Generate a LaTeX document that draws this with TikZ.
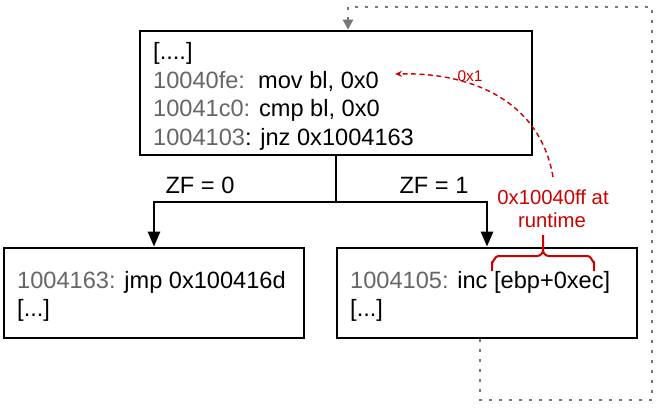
\documentclass[tikz,border=0pt]{standalone}
\usepackage{fontspec}
\setmainfont{Liberation Sans}
\usetikzlibrary{arrows.meta}
\definecolor{addrgray}{HTML}{666666}
\definecolor{dotgray}{HTML}{777777}
\definecolor{annred}{HTML}{CC0000}
\newcommand{\addr}[1]{\textcolor{addrgray}{#1}}
\tikzset{
  box/.style={draw=black, line width=2.7pt, rectangle, inner sep=0pt},
  txt/.style={anchor=base west, inner sep=0pt, font=\fontsize{23.6}{28}\selectfont},
  lbl/.style={anchor=base, inner sep=0pt, font=\fontsize{23.6}{28}\selectfont},
  conn/.style={draw=black, line width=2.7pt},
  connarrow/.style={conn, -{Triangle[width=12pt,length=15pt]}},
  dotline/.style={draw=dotgray, line width=2.5pt, dash pattern=on 2.5pt off 7.5pt},
  redtxt/.style={anchor=base, inner sep=0pt, text=annred, font=\fontsize{20.3}{24}\selectfont},
  redd/.style={draw=annred, line width=1.4pt, dash pattern=on 5pt off 3.5pt},
}
\begin{document}
\begin{tikzpicture}[x=1pt,y=-1pt]
\useasboundingbox (0,0) rectangle (664,415);
% boxes
\node[box, minimum width=392pt, minimum height=124pt] (top) at (336,93) {};
\node[box, minimum width=300pt, minimum height=90pt] (left) at (154,293) {};
\node[box, minimum width=300pt, minimum height=90pt] (right) at (487,293) {};
% top box text
\node[txt] (t1) at (153,59.5) {[....]};
\node[txt] (t2) at (153,88) {\addr{10040fe:}\ \ mov bl, 0x0};
\node[txt] (t3) at (153,116.5) {\addr{10041c0:} cmp bl, 0x0};
\node[txt] (t4) at (153,145) {\addr{1004103}: jnz 0x1004163};
% bottom texts
\node[txt] (l1) at (17,288) {\addr{1004163:} jmp 0x100416d};
\node[txt] (l2) at (17,316.5) {[...]};
\node[txt] (r1) at (350,288) {\addr{1004105:} inc [ebp+0xec]};
\node[txt] (r2) at (350,316.5) {[...]};
% branch connectors
\coordinate (split) at (336,202);
\draw[conn] (top.south) -- (split);
\draw[connarrow] (split) -| (left.north);
\draw[connarrow] (split) -| (right.north);
\node[lbl] (zf0) at (200,193) {ZF = 0};
\node[lbl] (zf1) at (434,193) {ZF = 1};
% dotted loop back
\coordinate (d1) at (480,400);
\coordinate (d2) at (652,400);
\coordinate (d3) at (652,7);
\coordinate (d4) at (348,7);
\draw[dotline, -{Triangle[width=10pt,length=10pt]}] (right.south -| d1) -- (d1) -- (d2) -- (d3) -- (d4) -- (d4 |- top.north);
% red annotation
\node[redtxt] (rt1) at (553,204) {0x10040ff at};
\node[redtxt] (rt2) at (552,227) {runtime};
\node[anchor=center, inner sep=0pt, text=annred, font=\fontsize{15.5}{18}\selectfont] (lbl1) at (470,76) {0x1};
\coordinate (ds) at (553,177);
\coordinate (de) at (395,74);
\draw[redd, -{Stealth[length=7pt,width=6pt]}] (ds) .. controls (540,100) and (470,72) .. (de);
% brace
\draw[annred, line width=2pt, line join=round]
  (492,271) -- (492,262) to[out=-90,in=180] (498,256) -- (537,256) to[out=0,in=-90] (543,250) -- (543,235)
  (543,250) to[out=-90,in=180] (549,256) -- (588,256) to[out=0,in=-90] (594,262) -- (594,271);
\end{tikzpicture}
\end{document}
